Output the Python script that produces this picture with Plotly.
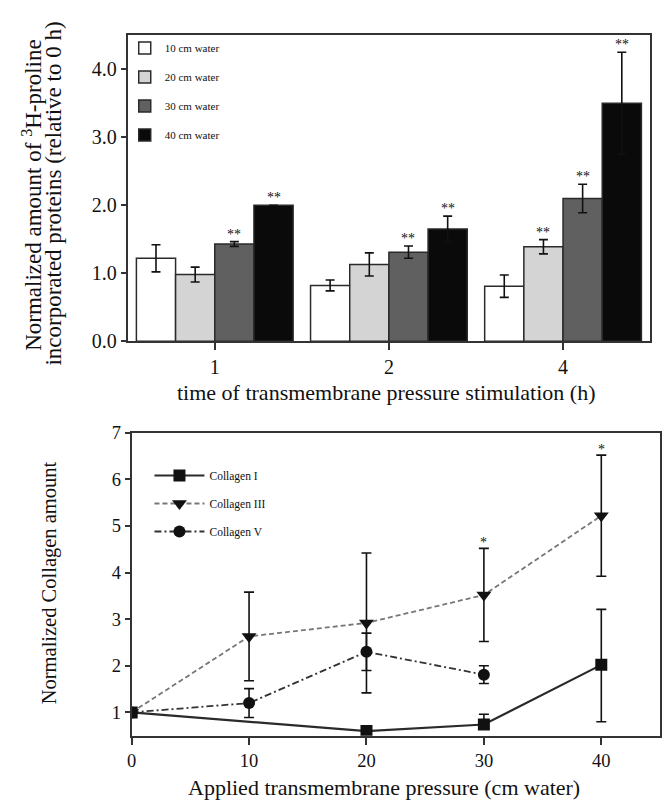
import plotly.graph_objects as go

FONT = "Liberation Serif, Times New Roman, serif"

# ---------------- Top chart data ----------------
time_cats = ["1", "2", "4"]
series_names = ["10 cm water", "20 cm water", "30 cm water", "40 cm water"]
bar_vals = {
    "10 cm water": [1.22, 0.82, 0.81],
    "20 cm water": [0.98, 1.13, 1.39],
    "30 cm water": [1.43, 1.31, 2.10],
    "40 cm water": [2.00, 1.65, 3.50],
}
bar_errs = {
    "10 cm water": [0.20, 0.08, 0.165],
    "20 cm water": [0.11, 0.17, 0.105],
    "30 cm water": [0.035, 0.09, 0.21],
    "40 cm water": [0.0, 0.19, 0.75],
}
bar_colors = ["#ffffff", "#d4d4d4", "#606060", "#0a0a0a"]
# significance marks: (series, category index)
top_sig = [("30 cm water", 0), ("40 cm water", 0), ("30 cm water", 1),
           ("40 cm water", 1), ("20 cm water", 2), ("30 cm water", 2),
           ("40 cm water", 2)]

# ---------------- Bottom chart data ----------------
col1_x = [0, 20, 30, 40]
col1_y = [1.0, 0.60, 0.74, 2.02]
col1_ep = [0, 0, 0.22, 1.19]
col1_em = [0, 0, 0, 1.22]

col3_x = [0, 10, 20, 30, 40]
col3_y = [1.0, 2.63, 2.92, 3.52, 5.22]
col3_e = [0, 0.95, 1.5, 1.0, 1.3]

col5_x = [0, 10, 20, 30]
col5_y = [1.0, 1.20, 2.30, 1.81]
col5_e = [0, 0.31, 0.40, 0.19]

bottom_sig_x = [30, 40]

fig = go.Figure()

# ---------------- Top bars ----------------
for name, col in zip(series_names, bar_colors):
    fig.add_trace(go.Bar(
        x=time_cats, y=bar_vals[name], name=name,
        marker=dict(color=col, line=dict(color="#2a2a2a", width=1.5)),
        error_y=dict(type="data", array=bar_errs[name], visible=True,
                     color="#111111", thickness=1.6, width=4.5),
        xaxis="x", yaxis="y", legend="legend", legendgroup=name,
    ))

n = len(series_names)
gw = 0.9
bw = gw / n
annotations = []
for name, ci in top_sig:
    si = series_names.index(name)
    xpos = ci - gw / 2 + bw * (si + 0.5)
    ytop = bar_vals[name][ci] + bar_errs[name][ci]
    annotations.append(dict(x=xpos, y=ytop, xref="x", yref="y", text="**",
                            showarrow=False, yanchor="bottom", yshift=-2,
                            font=dict(family=FONT, size=14, color="#111")))

# ---------------- Bottom lines ----------------
fig.add_trace(go.Scatter(
    x=col1_x, y=col1_y, name="Collagen I", mode="lines+markers",
    line=dict(color="#2a2a2a", width=2.2),
    marker=dict(symbol="square", size=12, color="#111"),
    error_y=dict(type="data", array=col1_ep, arrayminus=col1_em, visible=True,
                 color="#111", thickness=1.6, width=5),
    xaxis="x2", yaxis="y2", legend="legend2", legendgroup="c1"))
fig.add_trace(go.Scatter(
    x=col3_x, y=col3_y, name="Collagen III", mode="lines+markers",
    line=dict(color="#777777", width=1.8, dash="5px,3px"),
    marker=dict(symbol="triangle-down", size=13, color="#111"),
    error_y=dict(type="data", array=col3_e, visible=True,
                 color="#111", thickness=1.6, width=5),
    xaxis="x2", yaxis="y2", legend="legend2", legendgroup="c3"))
fig.add_trace(go.Scatter(
    x=col5_x, y=col5_y, name="Collagen V", mode="lines+markers",
    line=dict(color="#333333", width=1.8, dash="7px,3px,2px,3px"),
    marker=dict(symbol="circle", size=12, color="#111"),
    error_y=dict(type="data", array=col5_e, visible=True,
                 color="#111", thickness=1.6, width=5),
    xaxis="x2", yaxis="y2", legend="legend2", legendgroup="c5"))

for xv in bottom_sig_x:
    i = col3_x.index(xv)
    annotations.append(dict(x=xv, y=col3_y[i] + col3_e[i], xref="x2", yref="y2",
                            text="*", showarrow=False, yanchor="bottom", yshift=-4,
                            font=dict(family=FONT, size=14, color="#111")))

# ---------------- Titles ----------------
annotations += [
    dict(text="Normalized amount of <sup>3</sup>H-proline",
         x=27 / 662, y=1 - 190 / 811, xref="paper", yref="paper", textangle=-90,
         showarrow=False, xanchor="center", yanchor="middle",
         font=dict(family=FONT, size=23, color="#111")),
    dict(text="incorporated proteins (relative to 0 h)",
         x=49 / 662, y=1 - 188 / 811, xref="paper", yref="paper", textangle=-90,
         showarrow=False, xanchor="center", yanchor="middle",
         font=dict(family=FONT, size=23, color="#111")),
    dict(text="time of transmembrane pressure stimulation (h)",
         x=386 / 662, y=1 - 393 / 811, xref="paper", yref="paper",
         showarrow=False, xanchor="center", yanchor="middle",
         font=dict(family=FONT, size=22, color="#111")),
    dict(text="Normalized Collagen amount",
         x=45 / 662, y=1 - 588 / 811, xref="paper", yref="paper", textangle=-90,
         showarrow=False, xanchor="center", yanchor="middle",
         font=dict(family=FONT, size=20.5, color="#111")),
    dict(text="Applied transmembrane pressure (cm water)",
         x=383 / 662, y=1 - 798 / 811, xref="paper", yref="paper",
         showarrow=False, xanchor="center", yanchor="middle",
         font=dict(family=FONT, size=22, color="#111")),
]

axis_common = dict(showline=True, linecolor="#333", linewidth=1.8, mirror=True,
                   ticks="outside", tickcolor="#333", tickwidth=1.5,
                   showgrid=False, zeroline=False)
top_tickfont = dict(family=FONT, size=20, color="#111")
bot_tickfont = dict(family=FONT, size=18.5, color="#111")

fig.update_layout(
    width=662, height=811,
    margin=dict(l=0, r=0, t=0, b=0),
    paper_bgcolor="white", plot_bgcolor="white",
    barmode="group", bargap=0.1, bargroupgap=0,
    xaxis=dict(domain=[124 / 662, 652 / 662], anchor="y", type="category",
               range=[-0.5, 2.5], ticklen=7, tickfont=top_tickfont, **axis_common),
    yaxis=dict(domain=[1 - 340 / 811, 1 - 26 / 811], anchor="x",
               range=[0, 4.5], tickvals=[0, 1, 2, 3, 4],
               ticktext=["0.0", "1.0", "2.0", "3.0", "4.0"], ticklen=5,
               tickfont=top_tickfont, **axis_common),
    xaxis2=dict(domain=[128 / 662, 1.0], anchor="y2", range=[0, 45],
                tickvals=[0, 10, 20, 30, 40], ticklen=7,
                tickfont=bot_tickfont, **axis_common),
    yaxis2=dict(domain=[1 - 745 / 811, 1 - 434 / 811], anchor="x2",
                range=[0.5, 7], tickvals=[1, 2, 3, 4, 5, 6, 7], ticklen=5,
                tickfont=bot_tickfont, **axis_common),
    legend=dict(x=121 / 662, y=1 - 24 / 811, xanchor="left", yanchor="top",
                bgcolor="rgba(0,0,0,0)", traceorder="grouped", tracegroupgap=10,
                font=dict(family=FONT, size=11, color="#111")),
    legend2=dict(x=146 / 662, y=1 - 463 / 811, xanchor="left", yanchor="top",
                 bgcolor="rgba(0,0,0,0)", traceorder="grouped", tracegroupgap=9,
                 itemwidth=50,
                 font=dict(family=FONT, size=11.5, color="#111")),
    annotations=annotations,
    showlegend=True,
)

fig.write_html("out.html")
